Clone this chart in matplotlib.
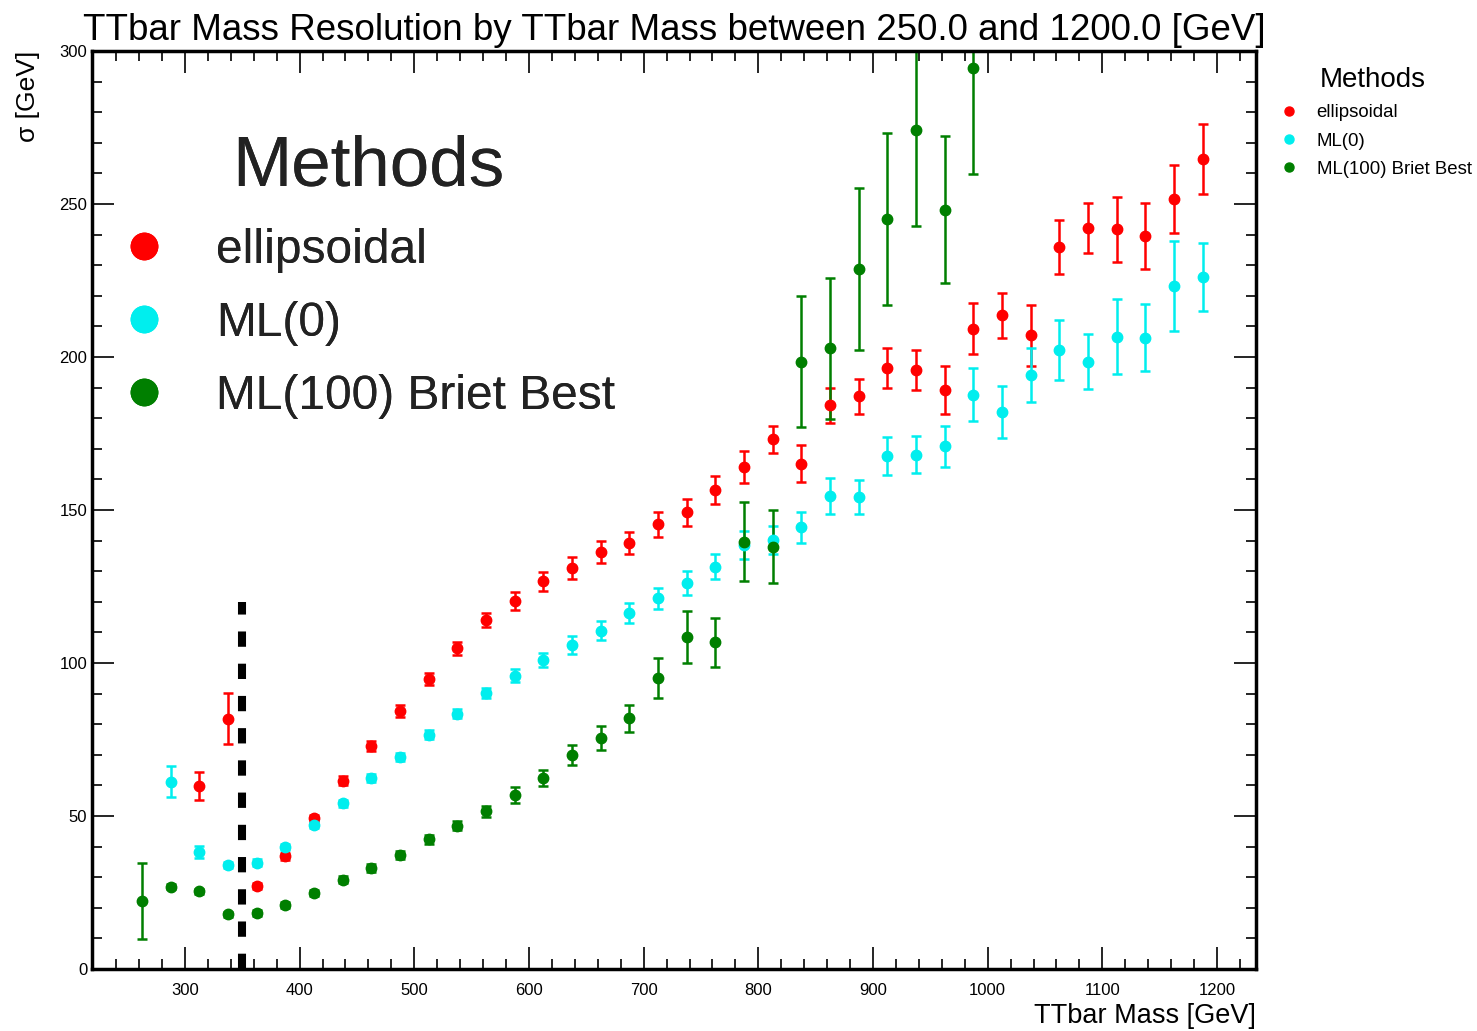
import numpy as np
import matplotlib
matplotlib.use("Agg")
import matplotlib.pyplot as plt
from matplotlib.lines import Line2D
from matplotlib.ticker import MultipleLocator

plt.rcParams['font.family'] = ['Liberation Sans', 'DejaVu Sans']

# bin centres, 25 GeV bins from 250 to 1200
mass = np.arange(262.5, 1200, 25.0)
nan = np.nan

ellipsoidal = [nan, nan, 59.8, 81.8, 27.2, 36.8, 49.2, 61.5, 72.8, 84.4,
               94.8, 104.8, 114.1, 120.3, 126.7, 131.0, 136.3, 139.2, 145.3, 149.2,
               156.5, 164.1, 173.1, 165.2, 184.2, 187.2, 196.4, 195.8, 189.3, 209.3,
               213.6, 207.1, 236.0, 242.1, 241.7, 239.5, 251.6, 264.7]
ellipsoidal_err = [nan, nan, 4.5, 8.4, 1.0, 1.2, 1.3, 1.5, 1.7, 1.9,
                   2.0, 2.1, 2.2, 3.0, 3.2, 3.6, 3.5, 3.7, 4.1, 4.5,
                   4.5, 5.3, 4.4, 5.9, 5.7, 5.7, 6.5, 6.5, 7.8, 8.3,
                   7.3, 10.0, 8.9, 8.1, 10.5, 10.8, 11.2, 11.5]

ml0 = [nan, 61.2, 38.2, 34.0, 34.8, 40.0, 47.1, 54.1, 62.5, 69.3,
       76.6, 83.5, 90.1, 95.9, 101.0, 105.9, 110.6, 116.3, 121.1, 126.2,
       131.5, 138.6, 140.1, 144.4, 154.7, 154.3, 167.7, 168.1, 170.8, 187.7,
       182.0, 194.2, 202.3, 198.5, 206.7, 206.3, 223.1, 226.2]
ml0_err = [nan, 5.0, 2.0, 0.9, 1.0, 1.0, 1.1, 1.2, 1.3, 1.4,
           1.5, 1.6, 1.6, 2.0, 2.3, 2.8, 3.0, 3.3, 3.5, 3.9,
           4.1, 4.7, 4.6, 5.1, 5.9, 5.5, 6.2, 6.0, 6.7, 8.6,
           8.4, 8.9, 9.9, 9.1, 12.3, 11.0, 14.7, 11.0]

ml100 = [22.2, 26.9, 25.4, 17.9, 18.3, 20.9, 24.8, 29.2, 33.0, 37.3,
         42.4, 46.9, 51.6, 56.9, 62.5, 69.9, 75.5, 81.9, 95.0, 108.5,
         106.8, 139.7, 138.0, 198.5, 202.8, 228.7, 245.1, 274.1, 248.1, 294.4,
         nan, nan, nan, nan, nan, nan, nan, nan]
ml100_err = [12.3, 0.8, 0.9, 0.8, 0.9, 0.9, 1.0, 1.1, 1.2, 1.4,
             1.5, 1.6, 1.8, 2.5, 2.7, 3.3, 4.0, 4.4, 6.5, 8.5,
             8.0, 13.0, 12.0, 21.5, 23.0, 26.5, 28.0, 31.4, 24.0, 34.5,
             nan, nan, nan, nan, nan, nan, nan, nan]

labels = ["ellipsoidal", "ML(0)", "ML(100) Briet Best"]
colors = ["#ff0000", "#00eeee", "#007f00"]
top_threshold = 350.0

fig = plt.figure(figsize=(14.77, 10.31), dpi=100)
ax = fig.add_axes([0.0623, 0.0601, 0.7881, 0.8904])

for y, err, c in zip([ellipsoidal, ml0, ml100], [ellipsoidal_err, ml0_err, ml100_err], colors):
    ax.errorbar(mass, y, yerr=err, fmt='o', color=c, markersize=7.5,
                elinewidth=1.8, capsize=3.5, capthick=1.8)

ax.vlines(top_threshold, 0, 120, colors='black', linewidth=5.8,
          linestyles=(0, (1.9, 2.1)))

ax.set_xlim(219, 1234)
ax.set_ylim(0, 300)
ax.xaxis.set_major_locator(MultipleLocator(100))
ax.xaxis.set_minor_locator(MultipleLocator(20))
ax.yaxis.set_major_locator(MultipleLocator(50))
ax.yaxis.set_minor_locator(MultipleLocator(10))
ax.tick_params(which='both', direction='in', top=True, right=True, labelsize=12, width=1.2)
ax.tick_params(which='major', length=15.5)
ax.tick_params(which='minor', length=7.5)
ax.tick_params(axis='x', pad=10)
for s in ax.spines.values():
    s.set_linewidth(2.5)

ax.set_title("TTbar Mass Resolution by TTbar Mass between 250.0 and 1200.0 [GeV]",
             fontsize=26.5, pad=8)
ax.set_xlabel("TTbar Mass [GeV]", fontsize=19.5, loc='right', labelpad=4)
ax.set_ylabel("σ [GeV]", fontsize=19, loc='top', labelpad=14)

# big legend inside the axes
handles = [Line2D([], [], marker='o', linestyle='none', color=c, markersize=19) for c in colors]
big = ax.legend(handles, labels, title="Methods", loc='upper left',
                bbox_to_anchor=(0.008, 0.93), borderaxespad=0, fontsize=34.5,
                title_fontsize=51, frameon=False, handlelength=1.0,
                handletextpad=1.0, labelspacing=0.58)
for t in big.get_texts():
    t.set_color('#222222')
big.get_title().set_color('#222222')
ax.add_artist(big)

# small legend outside on the right
small = [Line2D([], [], marker='o', linestyle='none', color=c, markersize=6.5) for c in colors]
fig.legend(small, labels, title="Methods", loc='upper left',
           bbox_to_anchor=(0.8517, 0.951), fontsize=13.4, title_fontsize=20,
           frameon=False, handlelength=1.5, handletextpad=0.75, labelspacing=0.6)

fig.savefig("out.png", dpi=100)
